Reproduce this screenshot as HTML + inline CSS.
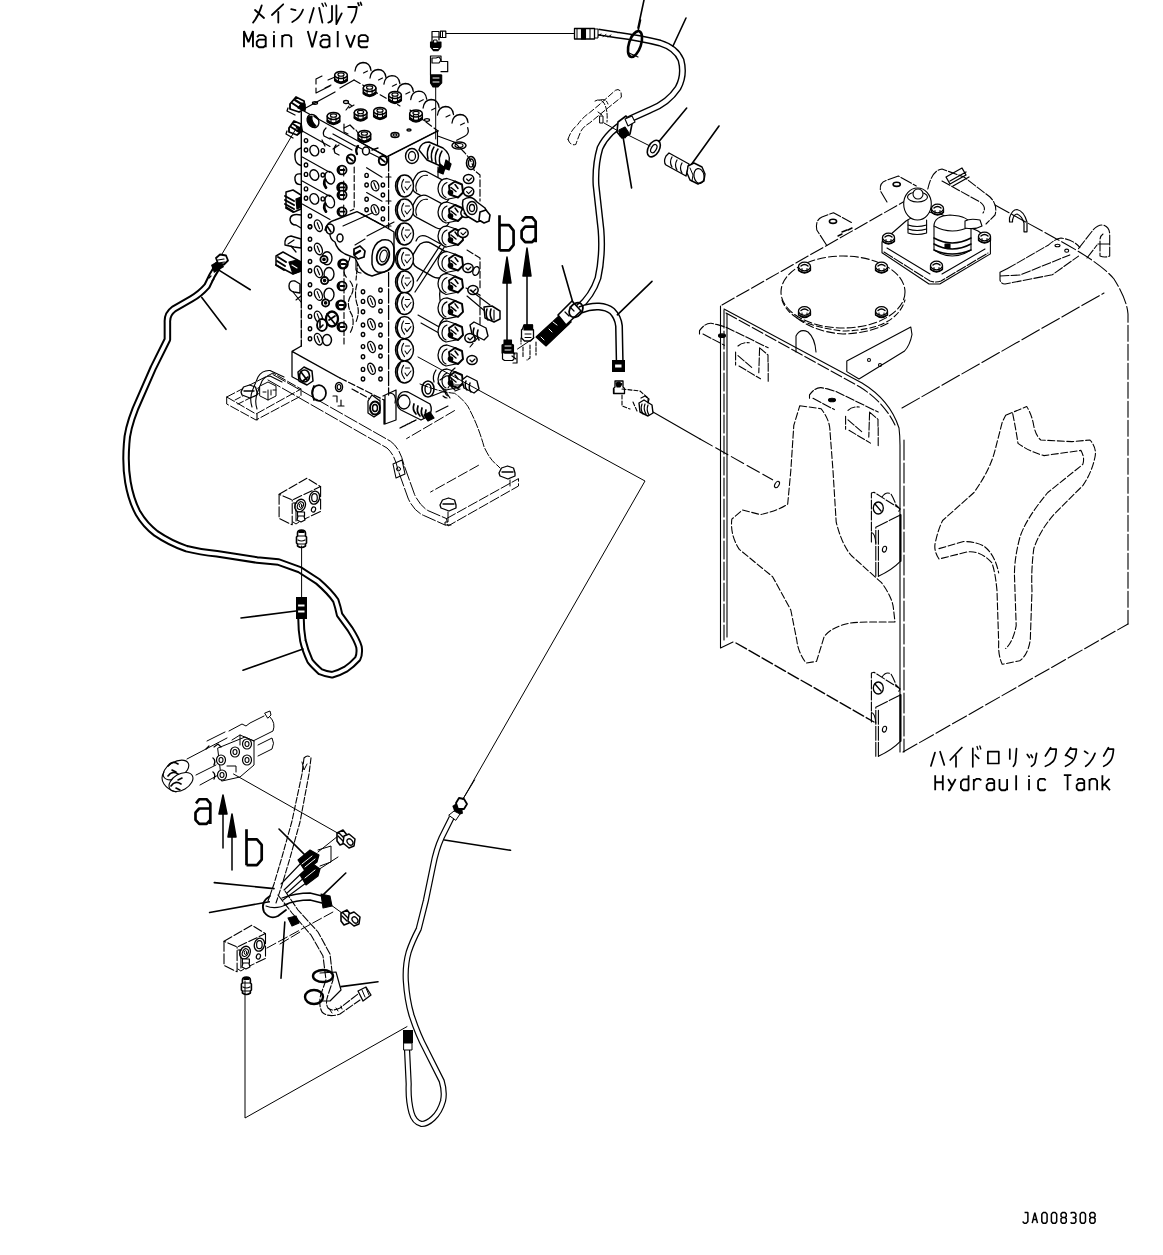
<!DOCTYPE html>
<html><head><meta charset="utf-8"><style>
html,body{margin:0;padding:0;background:#fff;width:1163px;height:1255px;overflow:hidden}
svg{position:absolute;left:0;top:0;display:block}
text{font-family:"Liberation Mono",monospace;fill:#000}
</style></head><body>
<svg width="1163" height="1255" viewBox="0 0 1163 1255" fill="none" stroke="#000" stroke-width="1.2" stroke-linecap="round" stroke-linejoin="round">
<!-- TEXT -->
<g id="txt" stroke="none" fill="#000">
</g>
<g id="kata" stroke-width="1.8">
<path d="M261.7 5.4 Q259 15 253.1 22.6 M255 10 L264 18"/>
<path d="M283.2 4.3 L271.9 15 M278.3 11.8 V22.6"/>
<path d="M291.2 9.1 L295.5 10.2 M292.3 22 Q300 18 303 9.7"/>
<path d="M313.8 8 L309.5 22.6 M319.2 8 L322.4 22.6"/><path d="M322 3.4 L323.4 6.4 M325 3 L326.4 6" stroke-width="1.4"/>
<path d="M332 6 V20 Q331 22 328.3 22.6 M336.4 5.4 V24.2 L341.7 13.4"/>
<path d="M348.2 7 H356.8 Q356 17 351.4 22.6 M358 3 L359 5.5 M360.5 2.5 L361.5 5"/>
</g>

<g id="kata2" stroke-width="1.7">
<path d="M935 752.6 L930.9 766 M940.1 751.7 L944.3 765"/>
<path d="M961.9 747.5 L950.2 760 M956 756 V766.8"/>
<path d="M972.8 748.4 V766.8 M975.3 755 L978.7 758.4"/><path d="M977 746.5 L978 749.5 M979.8 746 L980.8 749" stroke-width="1.3"/>
<path d="M987.9 751.7 H998.8 V763.5 H987.9 Z"/>
<path d="M1009.8 749.2 V759 M1016.5 748.7 L1015.5 762 Q1015 764.5 1013.4 766.3"/>
<path d="M1027.3 754.4 L1029.4 757.5 M1031 754.9 L1032.5 757.5 M1036.6 753.4 L1035 762.6 Q1034 765 1031.5 766.3"/>
<path d="M1050.6 747.7 L1045.4 756 M1050.6 749.2 H1056.2 Q1056 757 1053.7 760.6 Q1050 765 1045.4 766.3"/>
<path d="M1070.7 747.7 L1065.5 755.4 M1071.2 749.2 H1076.4 Q1076 758 1072 762 Q1069 765 1065.5 766.3 M1066 755 L1072.2 758.5"/>
<path d="M1084.6 751.3 L1087.7 753.4 M1085.7 766.3 Q1092 762 1095 753.4"/>
<path d="M1108.4 747.7 L1103.7 756 M1108.4 749.2 H1113.5 Q1113 757 1110.7 760.6 Q1107.5 765 1103.7 766.3"/>
</g>
<!-- TANK -->
<g id="tank" stroke-width="1.1">
<!-- top back-left edge -->
<path d="M722 305 L905 201" stroke-dasharray="14 3"/>
<path d="M995 205 L1053 237 Q1100 262 1114 279 Q1127 300 1128 314 V624" stroke-dasharray="16 3"/>
<!-- front top edge double -->
<path d="M724 309 L862 383 Q890 400 899 428 Q900 436 900 445 V752"/>
<path d="M726 313 L860 387 Q884 402 895 425" stroke-dasharray="12 3"/>
<path d="M904 440 V752" stroke-dasharray="20 3"/>
<!-- front left edges -->
<path d="M720.5 306 V648 L733 642"/>
<path d="M724 310 V640" stroke-dasharray="18 3"/>
<path d="M727 314 V637"/>
<!-- front bottom -->
<path d="M736 643 L874 722" stroke-width="1.4" stroke-dasharray="12 3"/>
<!-- right face -->
<path d="M902 408 L1104 293" stroke-dasharray="20 3"/>
<path d="M903 752 L1128 624" stroke-dasharray="16 3"/>
<!-- manhole -->
<ellipse cx="843" cy="292" rx="62" ry="36" stroke-dasharray="8 3"/>
<path d="M782 300 Q790 325 843 331 Q896 330 905 300" stroke-dasharray="6 3"/><path d="M797 318 Q815 332 843 334 Q872 333 890 322" stroke-dasharray="8 3"/>
<!-- front cutout -->
<path d="M799.8 405.7 L821 408.7 Q830 420 830 431.4 L833 470.8 L836.2 522.2 Q842 545 851.3 555.5 L881.5 582.7 Q893 598 893.6 610 L895 622 L869.4 622 Q850 622 842.2 625 Q828 630 824 637.2 L816.5 661.4 L806 663 Q798 652 796.8 640.2 L790.8 610 Q780 590 772.6 576.7 L739.3 549.4 Q730 535 731.8 519.2 L742.4 510 L760.5 514.6 Q780 510 787.7 504 L790.8 470.8 L793.8 425.4 Z" stroke-dasharray="7 2.5"/>
<!-- right cutout outer -->
<path d="M1005.7 415.3 L1026.7 406.5 Q1032 415 1033.8 426 Q1036 436 1040.8 440 L1072 441.6 L1090 440 Q1097 448 1095 457 Q1092 472 1083 485.4 L1054.8 513.5 Q1040 530 1033.8 548.6 Q1031 570 1032 590.6 L1030.3 639.7 Q1028 655 1019.7 660.8 L1002.2 664.3 Q998 655 998.7 643 L997 590.6 Q995 570 991.7 562.6 Q980 550 967 552 L939 559 Q933 550 935.6 541.5 Q938 530 942.6 520.5 L974 492.5 Q990 470 995 450.4 L1002.2 422.3 Z" stroke-dasharray="7 2.5"/>
<!-- right cutout inner -->
<path d="M1012.7 413.6 Q1016 430 1018 443.4 Q1030 452 1044 455.6 L1081 450.4 Q1085 458 1082.8 464.4 L1047.8 492.5 Q1025 520 1019.7 538 Q1014 560 1014.5 576.6 L1016.2 625.7 Q1013 642 1005.7 648.5 M939 548.6 L963.6 541.5 Q978 542 984.7 546.8 Q995 555 998.7 573" stroke-dasharray="7 2.5"/>
<!-- thin line to tank hole -->
<path d="M653 412 L700 439" />
<path d="M700 439 L772.6 479.8" stroke-dasharray="14 4"/>
<ellipse cx="777" cy="484.5" rx="2" ry="3.5" transform="rotate(30 777 484.5)"/>
<!-- lugs -->
<path d="M699.5 334 V330.6 Q705 323 711 323.3 L717.5 324.6 L726 327.2 L768.2 347.8 M703 334 L724.4 345.3" stroke-dasharray="9 2"/>
<ellipse cx="722" cy="335.7" rx="3.5" ry="1.8" fill="#000"/>
<path d="M735.6 352 V365 M738 355.6 L752 367.6 M739 366 L760.5 378.8 M768.2 363.3 V382.2 M759.6 347.8 L758.8 372.8 M738 346 Q742 342 749.3 342.7 M759.6 347.8 L768 355 V363" stroke-dasharray="8 2"/>
<path d="M826.8 245.5 L816.8 230 Q815 220 822 217 L833.5 212.7 L851.4 222.5" stroke-dasharray="12 2"/>
<ellipse cx="833" cy="221.3" rx="3.6" ry="2.1" stroke-width="1.6"/>
<path d="M838 236 l4 -2 M842 232 l5 -2 M848 230 l4 -2" stroke-width="1.4"/>
<path d="M887 202 L880.5 191 Q879 183 886 180.5 L898.4 176 L916.3 186" stroke-dasharray="12 2"/>
<ellipse cx="896.7" cy="184.3" rx="3.6" ry="2.1" stroke-width="1.6"/>
<path d="M846.8 361 L910.8 327 L912 334.5 Q910 345 904.6 351 L859 379 L846.8 371.6 Z" />
<circle cx="869" cy="360" r="1.5"/><circle cx="880" cy="365" r="1.5"/>
<path d="M1007.5 268.6 L1048.6 244.9 Q1055 239 1061 238 Q1074 240 1079.8 247.4 M1000 272.3 V280 Q1001 284 1005 284 L1052.3 274.8 L1078.5 256.1 M1000 276 L1020 275 L1069.8 254.9 M1000 272.3 L1007.5 268.6" stroke-dasharray="9 2"/>
<ellipse cx="1057.5" cy="245.5" rx="2.5" ry="1.3"/><ellipse cx="1066.7" cy="250.7" rx="2" ry="1.6"/>
<path d="M796 352 V336 Q800 328 808 332 Q815 338 816 352" />
<path d="M1009.5 220 V218 Q1012 209.5 1017 209.5 Q1024 211 1027 222 V231.8 H1024 V223 Q1022 216 1017 214 Q1014 214 1012.5 220 V222 H1009.5 Z" stroke-width="1.2"/>
<path d="M1078.5 248.6 L1093 230 Q1098 224.5 1103 225 Q1109.5 227 1109.7 234 V256 Q1105 258 1100 256.1 V240 Q1100 236 1103 234 M1087 258 L1097 245" stroke-dasharray="10 2"/><path d="M1098 244 h11.5" stroke-width="1"/>
<!-- lower bracket under top -->
<g transform="translate(110 64.3)"><path d="M699.5 334 V330.6 Q705 323 711 323.3 L717.5 324.6 L726 327.2 L768.2 347.8 M703 334 L724.4 345.3" stroke-dasharray="9 2"/>
<ellipse cx="722" cy="335.7" rx="3.5" ry="1.8" fill="#000"/>
<path d="M735.6 352 V365 M738 355.6 L752 367.6 M739 366 L760.5 378.8 M768.2 363.3 V382.2 M759.6 347.8 L758.8 372.8 M738 346 Q742 342 749.3 342.7 M759.6 347.8 L768 355 V363" stroke-dasharray="8 2"/></g>
<!-- front edge brackets -->
<g id="brk1">
<path d="M871.4 542 V493 L874 492.3 L900.3 509 M882 497 Q886 491 891 494 Q894 499 896 505 L900 509 L898 513" stroke-dasharray="9 2"/>
<ellipse cx="878.3" cy="508" rx="5" ry="6" stroke-width="1.3"/><path d="M875 504 l6 7" stroke-width="1.3"/>
<path d="M875.8 576.3 V527.3 L900.3 515 M878.4 576.3 V530" stroke-dasharray="14 2"/>
<path d="M878.4 576.3 Q892 570 900.3 561.4" />
<path d="M871.4 532.5 Q875 533 875.8 543" />
<ellipse cx="884.5" cy="549.2" rx="2" ry="3" transform="rotate(15 884.5 549.2)"/>
<path d="M900.5 515 V561" stroke-width="2"/>
</g>
<use href="#brk1" transform="translate(0 180)"/>
</g>

<!-- FILTER ASSEMBLY -->
<g id="filter" stroke-width="1.1">
<path d="M882 242 L906 221 Q920 212 936 212 L978 231 L990.4 239.5 V253.9 L939.8 284 H929 L882 252.7 Z" fill="#fff"/>
<path d="M884 252 L930 281 Q936 283 941 281 L988 253" stroke-dasharray="10 2"/>
<path d="M887 248 L930 274 M942 274 L985 249"/>
<!-- breather -->
<path d="M908 220 V233 Q917 236 926.6 233 V220" fill="#fff"/>
<path d="M908 225 Q917 228 926.6 225 M908 229 Q917 232 926.6 229"/>
<ellipse cx="917.5" cy="204" rx="13.8" ry="16" fill="#fff"/>
<ellipse cx="917.5" cy="197" rx="10" ry="5"/>
<ellipse cx="918" cy="194" rx="5" ry="5" fill="#fff"/>
<!-- filler cap -->
<path d="M934 226 V250 Q952 262 971 250 V226" fill="#fff"/>
<path d="M934 238 Q952 248 971 238 M934 244 Q952 254 971 244 M934 250 Q952 258 971 250" stroke-width="1.6"/>
<path d="M934 226 Q934 216 950 215 Q970 216 971 226 Q952 236 934 226 Z" fill="#fff"/>
<rect x="945" y="244" width="5" height="4" fill="#000"/>
<!-- pipe -->
<path d="M927.8 189 Q932 170 942 169 L964 177 L990 197 Q998 205 995 215 L986 224" stroke-dasharray="9 2"/>
<path d="M942 181 L980 202 Q987 207 983 213" stroke-dasharray="9 2"/>
<path d="M946 177 L962 168 L966 175 L950 184 Z M950 181 L966 172 M953 186 L969 177" stroke-width="1.3"/>
<path d="M965 221 Q970 218 980 220 L982 226 Q975 230 965 228 Z" fill="#fff"/>
<!-- bolts -->
<defs><g id="helm"><path d="M-6 -1 V2.5 Q0 7.5 6 2.5 V-1" fill="#fff" stroke-width="1.3"/><ellipse cx="0" cy="-1.5" rx="6" ry="4.3" fill="#fff" stroke-width="1.3"/><path d="M-3.5 -2 Q0 -5 3.5 -2 M-5.5 2.5 Q0 6.5 5.5 2.5" stroke-width="1.4"/><path d="M-2.5 0.5 V3.5 M2.5 0.5 V3.5" stroke-width="1"/></g></defs>
<use href="#helm" transform="translate(888.5 239.0)"/>
<use href="#helm" transform="translate(937.5 210.0)"/>
<use href="#helm" transform="translate(984.5 238.0)"/>
<use href="#helm" transform="translate(936.5 267.0)"/>
<use href="#helm" transform="translate(804.5 268.0)"/>
<use href="#helm" transform="translate(881.5 268.0)"/>
<use href="#helm" transform="translate(804.5 312.5)"/>
<use href="#helm" transform="translate(881.5 312.5)"/>
</g>
</g>

<g id="valve" stroke-width="1.26">
<path d="M355.0 71.0 q1 -8 8 -8.5 q7 0 8 8" stroke-width="1.26" fill="none"/>
<path d="M363.5 73.0 l4 -2" stroke-width="1.15"/>
<path d="M370.0 78.0 q1 -8 8 -8.5 q7 0 8 8" stroke-width="1.26" fill="none"/>
<path d="M378.5 80.0 l4 -2" stroke-width="1.15"/>
<path d="M383.9 84.2 q1 -8 8 -8.5 q7 0 8 8" stroke-width="1.26" fill="none"/>
<path d="M392.4 86.2 l4 -2" stroke-width="1.15"/>
<path d="M397.3 92.0 q1 -8 8 -8.5 q7 0 8 8" stroke-width="1.26" fill="none"/>
<path d="M405.8 94.0 l4 -2" stroke-width="1.15"/>
<path d="M410.7 99.7 q1 -8 8 -8.5 q7 0 8 8" stroke-width="1.26" fill="none"/>
<path d="M419.2 101.7 l4 -2" stroke-width="1.15"/>
<path d="M423.1 108.0 q1 -8 8 -8.5 q7 0 8 8" stroke-width="1.26" fill="none"/>
<path d="M431.6 110.0 l4 -2" stroke-width="1.15"/>
<path d="M437.5 115.0 q1 -8 8 -8.5 q7 0 8 8" stroke-width="1.26" fill="none"/>
<path d="M446.0 117.0 l4 -2" stroke-width="1.15"/>
<path d="M452.0 123.0 q1 -8 8 -8.5 q7 0 8 8" stroke-width="1.26" fill="none"/>
<path d="M460.5 125.0 l4 -2" stroke-width="1.15"/>
<path d="M467.7 127.7 q2 6 -3 8.5 l-8 4" stroke-width="1.26"/>
<path d="M316 79 L322 76 M316 79 V84 M316 88 V93 L330 86 M328 80 L342 74 M325 88 l6 -3" stroke-width="1.15"/>
<path d="M302 110 L335 92 M340 88 L354 80 M438 131 L387 157 L302 110" stroke-width="1.26"/>
<path d="M354 80 L400 106 M410 110 L438 131" stroke-width="1.15" stroke-dasharray="7 3"/>
<path d="M334.7 75.0 v5.7 q6.3 5.5 12.6 0 v-5.7" fill="#fff" stroke-width="1.49"/>
<ellipse cx="341.0" cy="75.0" rx="6.3" ry="3.5" fill="#fff" stroke-width="1.49"/>
<ellipse cx="341.0" cy="74.5" rx="3.1" ry="1.7" stroke-width="1.15"/>
<path d="M335.3 79.8 q5.7 5.2 11.3 0" stroke-width="2.30"/>
<path d="M338.5 76.7 v4.4 M343.5 76.7 v4.4" stroke-width="1.15"/>
<path d="M363.3 88.0 v5.7 q6.3 5.5 12.6 0 v-5.7" fill="#fff" stroke-width="1.49"/>
<ellipse cx="369.6" cy="88.0" rx="6.3" ry="3.5" fill="#fff" stroke-width="1.49"/>
<ellipse cx="369.6" cy="87.5" rx="3.1" ry="1.7" stroke-width="1.15"/>
<path d="M363.9 92.8 q5.7 5.2 11.3 0" stroke-width="2.30"/>
<path d="M367.1 89.7 v4.4 M372.1 89.7 v4.4" stroke-width="1.15"/>
<path d="M327.2 116.0 v5.7 q6.3 5.5 12.6 0 v-5.7" fill="#fff" stroke-width="1.49"/>
<ellipse cx="333.5" cy="116.0" rx="6.3" ry="3.5" fill="#fff" stroke-width="1.49"/>
<ellipse cx="333.5" cy="115.5" rx="3.1" ry="1.7" stroke-width="1.15"/>
<path d="M327.8 120.8 q5.7 5.2 11.3 0" stroke-width="2.30"/>
<path d="M331.0 117.7 v4.4 M336.0 117.7 v4.4" stroke-width="1.15"/>
<path d="M354.3 112.5 v5.7 q6.3 5.5 12.6 0 v-5.7" fill="#fff" stroke-width="1.49"/>
<ellipse cx="360.6" cy="112.5" rx="6.3" ry="3.5" fill="#fff" stroke-width="1.49"/>
<ellipse cx="360.6" cy="112.0" rx="3.1" ry="1.7" stroke-width="1.15"/>
<path d="M354.9 117.3 q5.7 5.2 11.3 0" stroke-width="2.30"/>
<path d="M358.1 114.2 v4.4 M363.1 114.2 v4.4" stroke-width="1.15"/>
<path d="M373.7 111.0 v5.7 q6.3 5.5 12.6 0 v-5.7" fill="#fff" stroke-width="1.49"/>
<ellipse cx="380.0" cy="111.0" rx="6.3" ry="3.5" fill="#fff" stroke-width="1.49"/>
<ellipse cx="380.0" cy="110.5" rx="3.1" ry="1.7" stroke-width="1.15"/>
<path d="M374.3 115.8 q5.7 5.2 11.3 0" stroke-width="2.30"/>
<path d="M377.5 112.7 v4.4 M382.5 112.7 v4.4" stroke-width="1.15"/>
<path d="M358.1 134.0 v5.7 q6.3 5.5 12.6 0 v-5.7" fill="#fff" stroke-width="1.49"/>
<ellipse cx="364.4" cy="134.0" rx="6.3" ry="3.5" fill="#fff" stroke-width="1.49"/>
<ellipse cx="364.4" cy="133.5" rx="3.1" ry="1.7" stroke-width="1.15"/>
<path d="M358.7 138.8 q5.7 5.2 11.3 0" stroke-width="2.30"/>
<path d="M361.9 135.7 v4.4 M366.9 135.7 v4.4" stroke-width="1.15"/>
<path d="M409.7 113.5 v5.7 q6.3 5.5 12.6 0 v-5.7" fill="#fff" stroke-width="1.49"/>
<ellipse cx="416.0" cy="113.5" rx="6.3" ry="3.5" fill="#fff" stroke-width="1.49"/>
<ellipse cx="416.0" cy="113.0" rx="3.1" ry="1.7" stroke-width="1.15"/>
<path d="M410.3 118.3 q5.7 5.2 11.3 0" stroke-width="2.30"/>
<path d="M413.5 115.2 v4.4 M418.5 115.2 v4.4" stroke-width="1.15"/>
<path d="M388.7 95.0 v5.7 q6.3 5.5 12.6 0 v-5.7" fill="#fff" stroke-width="1.49"/>
<ellipse cx="395.0" cy="95.0" rx="6.3" ry="3.5" fill="#fff" stroke-width="1.49"/>
<ellipse cx="395.0" cy="94.5" rx="3.1" ry="1.7" stroke-width="1.15"/>
<path d="M389.3 99.8 q5.7 5.2 11.3 0" stroke-width="2.30"/>
<path d="M392.5 96.7 v4.4 M397.5 96.7 v4.4" stroke-width="1.15"/>
<ellipse cx="315" cy="103" rx="2.5" ry="1.3" stroke-width="1.38"/><ellipse cx="346" cy="102" rx="2.5" ry="1.5"/><ellipse cx="395" cy="135" rx="4" ry="2.5" stroke-width="1.49"/><ellipse cx="395" cy="135" rx="2" ry="1.2"/><ellipse cx="409" cy="130" rx="2" ry="1" stroke-width="1.49"/><ellipse cx="427" cy="120" rx="2.5" ry="1.3"/>
<ellipse cx="313" cy="121" rx="5.5" ry="7" fill="#fff" stroke-width="1.38" transform="rotate(-30 313 121)"/><path d="M308 117 q-1 7 5 10 l3 -1 q-5 -4 -4 -10z" fill="#000"/><path d="M314 116 l4 3" stroke-width="1.61"/>
<path d="M348 103 l4 3 M349 108 l5 -3 M346 110 l3 -4" stroke-width="1.15"/>
<path d="M330 138 l22 12 M333 134 l22 12 M356 146 l28 14 M360 142 l26 14" stroke-width="1.26"/>
<path d="M326 128 q-4 4 -2 8 l6 3 M344 128 l6 -3 l4 4 M339 145 l-6 4 M322 140 l3 6" stroke-width="1.26"/>
<ellipse cx="351" cy="159" rx="4.2" ry="4.6" fill="#fff" stroke-width="1.95"/><path d="M348 157 l5 4" stroke-width="1.61"/>
<ellipse cx="383" cy="160.5" rx="4.2" ry="4.6" fill="#fff" stroke-width="1.95"/><path d="M380 158 l5 4" stroke-width="1.61"/>
<ellipse cx="366" cy="151" rx="3.5" ry="4" fill="#fff" stroke-width="1.49"/><path d="M358 146 q-3 4 -1 8" stroke-width="2.30"/>
<path d="M336 145 q-3 4 -1 8 l4 2 M372 150 l6 -2" stroke-width="1.38"/>
<path d="M344 124 v8 l4 2 M356 130 l4 6" stroke-width="1.15"/>
<path d="M429 148 l4 -3 l4 3 l-1 4 l-4 1 z" fill="#000"/>
<path d="M290 104 l6 -7 l8 4 l1 8 l-6 3 l-9 -3 z" fill="#fff" stroke-width="1.84"/><path d="M292 103 l9 6 M295 100 l8 5" stroke-width="2.07"/><path d="M298 108 l4 -5 l3 1 v7z" fill="#000"/><path d="M288 108 l-1 3 l8 4" stroke-width="1.26"/>
<path d="M289 128 l5 -7 l7 3 l1 7 l-5 4 l-8 -3 z" fill="#fff" stroke-width="1.84"/><path d="M291 127 l8 5 M293 124 l8 5" stroke-width="1.84"/><path d="M297 131 l4 -5 l1 6z" fill="#000"/><path d="M287 131 l-1 3 l7 4" stroke-width="1.26"/>
<path d="M297 127 L302 131" stroke-width="2.30"/>
<path d="M301.3 112 V300" stroke-width="1.38"/><path d="M301.3 300 V346" stroke-width="1.38" stroke-dasharray="8 2"/>
<path d="M302.3 131.0 L330 146.5" stroke-width="1.15"/>
<path d="M302.3 157.0 L330 172.5" stroke-width="1.15"/>
<path d="M302.3 181.0 L330 196.5" stroke-width="1.15"/>
<path d="M302.3 204.0 L330 219.5" stroke-width="1.15"/>
<ellipse cx="306.0" cy="140.6" rx="1.7" ry="2.0" stroke-width="1.38"/>
<ellipse cx="306.0" cy="150.0" rx="1.7" ry="2.0" stroke-width="1.38"/>
<ellipse cx="314.3" cy="150.6" rx="4.3" ry="5.4" stroke-width="1.38" transform="rotate(-22 314.3 150.6)"/>
<ellipse cx="322.8" cy="150.6" rx="1.7" ry="2.0" stroke-width="1.38"/>
<ellipse cx="306.0" cy="165.0" rx="1.7" ry="2.0" stroke-width="1.38"/>
<ellipse cx="306.0" cy="174.4" rx="1.7" ry="2.0" stroke-width="1.38"/>
<ellipse cx="314.3" cy="175.0" rx="4.3" ry="5.4" stroke-width="1.38" transform="rotate(-22 314.3 175.0)"/>
<ellipse cx="322.8" cy="175.0" rx="1.7" ry="2.0" stroke-width="1.38"/>
<ellipse cx="306.0" cy="188.9" rx="1.7" ry="2.0" stroke-width="1.38"/>
<ellipse cx="306.0" cy="198.3" rx="1.7" ry="2.0" stroke-width="1.38"/>
<ellipse cx="314.3" cy="198.9" rx="4.3" ry="5.4" stroke-width="1.38" transform="rotate(-22 314.3 198.9)"/>
<ellipse cx="322.8" cy="198.9" rx="1.7" ry="2.0" stroke-width="1.38"/>
<ellipse cx="310.0" cy="216.0" rx="1.7" ry="2.0" stroke-width="1.38"/>
<ellipse cx="310.0" cy="226.6" rx="1.7" ry="2.0" stroke-width="1.38"/>
<ellipse cx="310.0" cy="226.7" rx="1.7" ry="2.0" stroke-width="1.38"/>
<ellipse cx="310.0" cy="239.2" rx="1.7" ry="2.0" stroke-width="1.38"/>
<ellipse cx="310.0" cy="249.0" rx="1.7" ry="2.0" stroke-width="1.38"/>
<ellipse cx="310.0" cy="261.5" rx="1.7" ry="2.0" stroke-width="1.38"/>
<ellipse cx="310.0" cy="270.8" rx="1.7" ry="2.0" stroke-width="1.38"/>
<ellipse cx="310.0" cy="284.8" rx="1.7" ry="2.0" stroke-width="1.38"/>
<ellipse cx="310.0" cy="294.0" rx="1.7" ry="2.0" stroke-width="1.38"/>
<ellipse cx="310.0" cy="307.0" rx="1.7" ry="2.0" stroke-width="1.38"/>
<ellipse cx="310.0" cy="316.4" rx="1.7" ry="2.0" stroke-width="1.38"/>
<ellipse cx="310.0" cy="328.8" rx="1.7" ry="2.0" stroke-width="1.38"/>
<ellipse cx="310.0" cy="338.7" rx="1.7" ry="2.0" stroke-width="1.38"/>
<ellipse cx="318.4" cy="225.7" rx="3.6" ry="6.0" stroke-width="1.38" transform="rotate(-22 318.4 225.7)"/>
<path d="M317.2 222.7 l2.4 6.0" stroke-width="1.15"/>
<ellipse cx="318.4" cy="249.0" rx="3.6" ry="6.0" stroke-width="1.38" transform="rotate(-22 318.4 249.0)"/>
<path d="M317.2 246.0 l2.4 6.0" stroke-width="1.15"/>
<ellipse cx="318.4" cy="271.8" rx="3.6" ry="6.0" stroke-width="1.38" transform="rotate(-22 318.4 271.8)"/>
<path d="M317.2 268.8 l2.4 6.0" stroke-width="1.15"/>
<ellipse cx="318.4" cy="294.6" rx="3.6" ry="6.0" stroke-width="1.38" transform="rotate(-22 318.4 294.6)"/>
<path d="M317.2 291.6 l2.4 6.0" stroke-width="1.15"/>
<ellipse cx="318.4" cy="316.9" rx="3.6" ry="6.0" stroke-width="1.38" transform="rotate(-22 318.4 316.9)"/>
<path d="M317.2 313.9 l2.4 6.0" stroke-width="1.15"/>
<ellipse cx="318.4" cy="339.2" rx="3.6" ry="6.0" stroke-width="1.38" transform="rotate(-22 318.4 339.2)"/>
<path d="M317.2 336.2 l2.4 6.0" stroke-width="1.15"/>
<ellipse cx="327.0" cy="258.3" rx="5" ry="6.5" fill="#fff" stroke-width="1.38"/>
<ellipse cx="329.0" cy="274.0" rx="5" ry="6.5" fill="#fff" stroke-width="1.38"/>
<ellipse cx="329.0" cy="294.6" rx="5" ry="6.5" fill="#fff" stroke-width="1.38"/>
<ellipse cx="324.0" cy="259.4" rx="3.6" ry="3.6" fill="#fff" stroke-width="1.84"/><circle cx="324.0" cy="259.4" r="1.2" fill="#000"/>
<ellipse cx="324.6" cy="280.6" rx="3.6" ry="3.6" fill="#fff" stroke-width="1.84"/><circle cx="324.6" cy="280.6" r="1.2" fill="#000"/>
<ellipse cx="325.6" cy="302.9" rx="3.6" ry="3.6" fill="#fff" stroke-width="1.84"/><circle cx="325.6" cy="302.9" r="1.2" fill="#000"/>
<ellipse cx="332" cy="319" rx="6" ry="7.5" fill="#fff" stroke-width="2.30"/><path d="M327 314 l8 10 M329 320 l6 -4" stroke-width="1.72"/>
<ellipse cx="322" cy="325" rx="5" ry="6" fill="#fff" stroke-width="1.84"/><path d="M320 321 v7 l3 -3" stroke-width="1.61"/>
<ellipse cx="327" cy="340" rx="4.5" ry="5.5" fill="#fff" stroke-width="1.49"/>
<ellipse cx="329.8" cy="177.7" rx="4.5" ry="6.5" stroke-width="1.38" transform="rotate(-20 329.8 177.7)"/>
<path d="M325 179.7 q-2 4 1 8" stroke-width="2.76"/>
<ellipse cx="329.8" cy="201.6" rx="4.5" ry="6.5" stroke-width="1.38" transform="rotate(-20 329.8 201.6)"/>
<path d="M325 203.6 q-2 4 1 8" stroke-width="2.76"/>
<ellipse cx="342.0" cy="170.0" rx="4.6" ry="4.4" fill="#fff" stroke-width="1.72"/>
<path d="M339.5 167.0 q-2 3 0 6 M340.5 170.0 h4" stroke-width="1.84"/>
<ellipse cx="342.0" cy="187.4" rx="4.6" ry="4.4" fill="#fff" stroke-width="2.30"/>
<path d="M339.5 184.4 q-2 3 0 6 M340.5 187.4 h4" stroke-width="1.84"/>
<ellipse cx="342.0" cy="195.0" rx="4.6" ry="4.4" fill="#fff" stroke-width="1.72"/>
<path d="M339.5 192.0 q-2 3 0 6 M340.5 195.0 h4" stroke-width="1.84"/>
<ellipse cx="342.0" cy="211.7" rx="4.6" ry="4.4" fill="#fff" stroke-width="1.72"/>
<path d="M339.5 208.7 q-2 3 0 6 M340.5 211.7 h4" stroke-width="1.84"/>
<ellipse cx="343.0" cy="264.0" rx="4.6" ry="4.4" fill="#fff" stroke-width="2.30"/>
<path d="M340.5 261.0 q-2 3 0 6 M341.5 264.0 h4" stroke-width="1.84"/>
<ellipse cx="342.0" cy="286.0" rx="4.6" ry="4.4" fill="#fff" stroke-width="1.72"/>
<path d="M339.5 283.0 q-2 3 0 6 M340.5 286.0 h4" stroke-width="1.84"/>
<ellipse cx="341.0" cy="305.0" rx="4.6" ry="4.4" fill="#fff" stroke-width="2.30"/>
<path d="M338.5 302.0 q-2 3 0 6 M339.5 305.0 h4" stroke-width="1.84"/>
<ellipse cx="342.0" cy="327.0" rx="4.6" ry="4.4" fill="#fff" stroke-width="1.72"/>
<path d="M339.5 324.0 q-2 3 0 6 M340.5 327.0 h4" stroke-width="1.84"/>
<path d="M343.7 168 V176 M343.7 181 V200 M343.7 205 V216" stroke-width="1.15"/>
<path d="M354.2 167 V209 l-4 2" stroke-width="1.15" stroke-dasharray="6 2.5"/>
<path d="M347 250 q6 6 0 14 q-6 8 0 14 M350 281 q6 8 0 16 q-4 8 2 18 q3 10 -2 18" stroke-width="1.15" stroke-dasharray="6 2"/>
<path d="M344 228 V248 M344 270 V345" stroke-width="1.15" stroke-dasharray="6 2.5"/>
<path d="M301 148 q-7 2 -6 9 q0 7 6 8.5" stroke-width="1.38"/>
<path d="M301 174 q-7 -1 -6 6 q1 5 6 4.6" stroke-width="1.38"/>
<path d="M301 215 q-11 -2 -11 5 q1 5 6 5 L301 228" stroke-width="1.38"/>
<path d="M286 192 l7 -2 l8 5 v14 l-7 3 l-8 -5z" fill="#fff" stroke-width="1.49"/><path d="M285 196 l9 5 M285 200 l9 5 M285 204 l9 5 M286 208 l7 4" stroke-width="1.95"/><path d="M296 199 l5 -2 v10 l-4 2z" fill="#000"/>
<path d="M285 245 q-1 -8 6 -9 l10 3 v9 l-7 -1 z" fill="#fff" stroke-width="1.38"/><path d="M288 244 l6 -4 M291 246 l5 6" stroke-width="1.26"/>
<path d="M276 256 l7 -4 l18 10 v9 l-8 3 l-17 -9z" fill="#fff" stroke-width="1.49"/><path d="M278 257 l8 5 M277 261 l8 5 M276 265 l8 5" stroke-width="1.95"/><path d="M289 262 l8 -2 l4 3 v8 l-8 3z" fill="#000"/><path d="M292 265 l5 3" stroke="#fff" stroke-width="1.15"/>
<path d="M289 286 q0 -6 6 -5 l5 3 v9 l-6 -1 q-5 -1 -5 -6z" fill="#fff" stroke-width="1.38"/><path d="M293 292 l8 10 M296 300 l5 -4" stroke-width="1.15"/>
<path d="M388.6 157 V395" stroke-width="1.26" stroke-dasharray="14 2.5"/>
<path d="M386 177 h5 M386 201 h5 M386 226 h5" stroke-width="1.15"/>
<ellipse cx="366.6" cy="175.4" rx="1.7" ry="2.0" stroke-width="1.38"/>
<ellipse cx="366.6" cy="185.0" rx="1.7" ry="2.0" stroke-width="1.38"/>
<ellipse cx="366.6" cy="199.3" rx="1.7" ry="2.0" stroke-width="1.38"/>
<ellipse cx="366.6" cy="209.8" rx="1.7" ry="2.0" stroke-width="1.38"/>
<ellipse cx="382.9" cy="185.0" rx="1.7" ry="2.0" stroke-width="1.38"/>
<ellipse cx="382.9" cy="195.0" rx="1.7" ry="2.0" stroke-width="1.38"/>
<ellipse cx="382.9" cy="208.8" rx="1.7" ry="2.0" stroke-width="1.38"/>
<ellipse cx="382.9" cy="218.9" rx="1.7" ry="2.0" stroke-width="1.38"/>
<ellipse cx="375.0" cy="185.8" rx="3.6" ry="5.3" stroke-width="1.38" transform="rotate(-22 375.0 185.8)"/>
<path d="M373.8 182.8 l2.4 6.0" stroke-width="1.15"/>
<ellipse cx="375.0" cy="209.8" rx="3.6" ry="5.3" stroke-width="1.38" transform="rotate(-22 375.0 209.8)"/>
<path d="M373.8 206.8 l2.4 6.0" stroke-width="1.15"/>
<path d="M366.6 167.7 L382 177.3 M366.6 192.6 L382 201.2" stroke-width="1.15"/>
<ellipse cx="363.0" cy="291.8" rx="1.7" ry="2.0" stroke-width="1.38"/>
<ellipse cx="363.0" cy="301.4" rx="1.7" ry="2.0" stroke-width="1.38"/>
<ellipse cx="363.0" cy="311.7" rx="1.7" ry="2.0" stroke-width="1.38"/>
<ellipse cx="363.0" cy="325.0" rx="1.7" ry="2.0" stroke-width="1.38"/>
<ellipse cx="363.0" cy="334.5" rx="1.7" ry="2.0" stroke-width="1.38"/>
<ellipse cx="363.0" cy="346.6" rx="1.7" ry="2.0" stroke-width="1.38"/>
<ellipse cx="363.0" cy="356.8" rx="1.7" ry="2.0" stroke-width="1.38"/>
<ellipse cx="363.0" cy="369.4" rx="1.7" ry="2.0" stroke-width="1.38"/>
<ellipse cx="363.0" cy="379.0" rx="1.7" ry="2.0" stroke-width="1.38"/>
<ellipse cx="380.5" cy="290.0" rx="1.7" ry="2.0" stroke-width="1.38"/>
<ellipse cx="380.5" cy="301.4" rx="1.7" ry="2.0" stroke-width="1.38"/>
<ellipse cx="380.5" cy="311.0" rx="1.7" ry="2.0" stroke-width="1.38"/>
<ellipse cx="380.5" cy="325.0" rx="1.7" ry="2.0" stroke-width="1.38"/>
<ellipse cx="380.5" cy="335.0" rx="1.7" ry="2.0" stroke-width="1.38"/>
<ellipse cx="380.5" cy="347.0" rx="1.7" ry="2.0" stroke-width="1.38"/>
<ellipse cx="380.5" cy="356.0" rx="1.7" ry="2.0" stroke-width="1.38"/>
<ellipse cx="380.5" cy="369.0" rx="1.7" ry="2.0" stroke-width="1.38"/>
<ellipse cx="380.5" cy="379.0" rx="1.7" ry="2.0" stroke-width="1.38"/>
<ellipse cx="371.5" cy="301.4" rx="3.4" ry="5.8" stroke-width="1.38" transform="rotate(-22 371.5 301.4)"/>
<path d="M370.3 298.4 l2.4 6.0" stroke-width="1.15"/>
<ellipse cx="371.5" cy="324.3" rx="3.4" ry="5.8" stroke-width="1.38" transform="rotate(-22 371.5 324.3)"/>
<path d="M370.3 321.3 l2.4 6.0" stroke-width="1.15"/>
<ellipse cx="371.5" cy="347.0" rx="3.4" ry="5.8" stroke-width="1.38" transform="rotate(-22 371.5 347.0)"/>
<path d="M370.3 344.0 l2.4 6.0" stroke-width="1.15"/>
<ellipse cx="371.5" cy="368.8" rx="3.4" ry="5.8" stroke-width="1.38" transform="rotate(-22 371.5 368.8)"/>
<path d="M370.3 365.8 l2.4 6.0" stroke-width="1.15"/>
<path d="M357 284 q-3 10 0 20 q3 8 -1 18 M358 260 l-2 20" stroke-width="1.15" stroke-dasharray="6 2"/>
<path d="M325 230 q2 -8 10 -10 L357 211.7 L361 213.6 L384 226 L394 232 V262 q-2 8 -10 10 l-12 4 q-8 -2 -12 -8 l-5 -10 l-10 -4 q-8 -4 -10 -12 q-6 -3 -5 -11z" fill="#fff" stroke-width="1.38"/>
<path d="M361 213.6 L384 226" stroke-width="1.38" stroke-dasharray="2 1"/>
<path d="M343 226 L372 213 M367 236 L394 222 M355 245 l10 -6" stroke-width="1.15"/>
<path d="M372 258 q0 -14 10 -18 q10 -2 12 8 v12 q-2 10 -10 12 q-10 2 -12 -8 z" stroke-width="1.49"/>
<ellipse cx="383" cy="256" rx="6" ry="9" stroke-width="1.84" transform="rotate(15 383 256)"/>
<ellipse cx="383.5" cy="256" rx="3.5" ry="6" stroke-width="1.26" transform="rotate(15 383.5 256)"/>
<ellipse cx="330" cy="229" rx="4" ry="5" fill="#fff" stroke-width="1.72"/><path d="M327 226 l4 6" stroke-width="1.61"/>
<ellipse cx="340" cy="238" rx="3" ry="4" stroke-width="1.49"/>
<path d="M354 249 l6 -3 l5 5 l-1 6 l-6 2 l-4 -4z" fill="#fff" stroke-width="1.72"/><path d="M355 254 l5 -3" stroke-width="2.53"/>
<path d="M356 260 v10 q2 3 5 3" stroke-width="1.15"/>
<path d="M388 156 L437.8 130.8" stroke-width="1.26"/>
<path d="M437.5 131 V147 M437.8 136 L454 142" stroke-width="1.15"/>
<ellipse cx="459" cy="145.5" rx="7" ry="3.6" stroke-width="1.49"/><ellipse cx="459" cy="145.5" rx="4" ry="2" stroke-width="1.15"/>
<path d="M454 142 l10 10 q8 8 10 18 l6 5 V201 M467 250 L480 258 V290 M466 288 l14 7 V335 l-10 12" stroke-width="1.15" stroke-dasharray="7 2.5"/>
<ellipse cx="471" cy="163" rx="4.5" ry="6.5" stroke-width="1.61"/><ellipse cx="471" cy="163" rx="2.5" ry="4"/>
<ellipse cx="476" cy="271" rx="3" ry="4.5" stroke-width="1.38" transform="rotate(20 476 271)"/>
<path d="M419 150 q2 -8 10 -8 l14 6 q8 6 6 14 l-4 6 l-18 -8 z" fill="#fff" stroke-width="1.38"/>
<ellipse cx="412" cy="156" rx="6.5" ry="7.5" fill="#fff" stroke-width="1.38"/><ellipse cx="412" cy="156" rx="3.5" ry="4.5"/>
<path d="M430 145 q-4 6 -2 14 M434 147 q-4 6 -2 14 M438 149 q-4 6 -2 14 M442 151 q-4 6 -2 14" stroke-width="1.49"/>
<path d="M446 160 l5 4 l-2 6 l-5 -2 z M440 164 l5 4 l-2 6 l-5 -2z" fill="#000"/>
<path d="M438 167 V178" stroke-width="1.15"/>
<rect x="412" y="176.0" width="40" height="24" rx="9" fill="#fff" stroke-width="1.38" transform="rotate(28 432 188.0)"/>
<path d="M422.0 179.0 q-6 2 -6 10 q0 6 4 9" stroke-width="1.15" transform="rotate(28 432 188.0)"/>
<rect x="412" y="200.0" width="40" height="24" rx="9" fill="#fff" stroke-width="1.38" transform="rotate(28 432 212.0)"/>
<path d="M422.0 203.0 q-6 2 -6 10 q0 6 4 9" stroke-width="1.15" transform="rotate(28 432 212.0)"/>
<rect x="413" y="246" width="38" height="28" rx="10" fill="#fff" stroke-width="1.38" transform="rotate(30 432 260)"/>
<path d="M416 241 q3 -8 12 -4 l18 10 M417 281 l26 -40 M445 246 l-30 46" stroke-width="1.26"/>
<path d="M418 315 l30 17 M421 323 l25 14" stroke-width="1.15"/>
<path d="M446 278 q-8 10 -6 22 q2 8 6 10 M444 318 q-8 8 -4 18" stroke-width="1.26"/>
<ellipse cx="404.5" cy="186.0" rx="9.0" ry="11.0" fill="#fff" stroke-width="1.38"/>
<path d="M400.0 177.2 q-5.9 8.8 0 17.6" stroke-width="1.72"/>
<path d="M403.6 179.4 q-4.5 6.6 0.9 13.2" stroke-width="1.15"/>
<path d="M405.0 187.0 l2 3 l4 -5 M405.5 182.0 h4" stroke-width="1.03"/>
<ellipse cx="404.5" cy="210.0" rx="9.0" ry="11.0" fill="#fff" stroke-width="1.38"/>
<path d="M400.0 201.2 q-5.9 8.8 0 17.6" stroke-width="1.72"/>
<path d="M403.6 203.4 q-4.5 6.6 0.9 13.2" stroke-width="1.15"/>
<path d="M405.0 211.0 l2 3 l4 -5 M405.5 206.0 h4" stroke-width="1.03"/>
<ellipse cx="404.5" cy="234.0" rx="9.0" ry="11.0" fill="#fff" stroke-width="1.38"/>
<path d="M400.0 225.2 q-5.9 8.8 0 17.6" stroke-width="1.72"/>
<path d="M403.6 227.4 q-4.5 6.6 0.9 13.2" stroke-width="1.15"/>
<path d="M405.0 235.0 l2 3 l4 -5 M405.5 230.0 h4" stroke-width="1.03"/>
<ellipse cx="404.5" cy="259.0" rx="9.0" ry="11.0" fill="#fff" stroke-width="1.38"/>
<path d="M400.0 250.2 q-5.9 8.8 0 17.6" stroke-width="1.72"/>
<path d="M403.6 252.4 q-4.5 6.6 0.9 13.2" stroke-width="1.15"/>
<path d="M405.0 260.0 l2 3 l4 -5 M405.5 255.0 h4" stroke-width="1.03"/>
<ellipse cx="404.5" cy="282.0" rx="9.0" ry="11.0" fill="#fff" stroke-width="1.38"/>
<path d="M400.0 273.2 q-5.9 8.8 0 17.6" stroke-width="1.72"/>
<path d="M403.6 275.4 q-4.5 6.6 0.9 13.2" stroke-width="1.15"/>
<path d="M405.0 283.0 l2 3 l4 -5 M405.5 278.0 h4" stroke-width="1.03"/>
<ellipse cx="404.5" cy="303.5" rx="9.0" ry="11.0" fill="#fff" stroke-width="1.38"/>
<path d="M400.0 294.7 q-5.9 8.8 0 17.6" stroke-width="1.72"/>
<path d="M403.6 296.9 q-4.5 6.6 0.9 13.2" stroke-width="1.15"/>
<path d="M405.0 304.5 l2 3 l4 -5 M405.5 299.5 h4" stroke-width="1.03"/>
<ellipse cx="404.5" cy="327.6" rx="9.0" ry="11.0" fill="#fff" stroke-width="1.38"/>
<path d="M400.0 318.8 q-5.9 8.8 0 17.6" stroke-width="1.72"/>
<path d="M403.6 321.0 q-4.5 6.6 0.9 13.2" stroke-width="1.15"/>
<path d="M405.0 328.6 l2 3 l4 -5 M405.5 323.6 h4" stroke-width="1.03"/>
<ellipse cx="404.5" cy="350.0" rx="9.0" ry="11.0" fill="#fff" stroke-width="1.38"/>
<path d="M400.0 341.2 q-5.9 8.8 0 17.6" stroke-width="1.72"/>
<path d="M403.6 343.4 q-4.5 6.6 0.9 13.2" stroke-width="1.15"/>
<path d="M405.0 351.0 l2 3 l4 -5 M405.5 346.0 h4" stroke-width="1.03"/>
<ellipse cx="404.5" cy="372.0" rx="9.0" ry="11.0" fill="#fff" stroke-width="1.38"/>
<path d="M400.0 363.2 q-5.9 8.8 0 17.6" stroke-width="1.72"/>
<path d="M403.6 365.4 q-4.5 6.6 0.9 13.2" stroke-width="1.15"/>
<path d="M405.0 373.0 l2 3 l4 -5 M405.5 368.0 h4" stroke-width="1.03"/>
<path d="M447.0 178.5 q-8 0 -9 10 q0 8 8 11 l10 -2 v-16z" fill="#fff" stroke-width="1.26"/>
<path d="M447.0 182.5 q-5 2 -5 8 q0 5 4 7" stroke-width="1.15"/>
<path d="M447.0 202.0 q-8 0 -9 10 q0 8 8 11 l10 -2 v-16z" fill="#fff" stroke-width="1.26"/>
<path d="M447.0 206.0 q-5 2 -5 8 q0 5 4 7" stroke-width="1.15"/>
<path d="M447.0 226.0 q-8 0 -9 10 q0 8 8 11 l10 -2 v-16z" fill="#fff" stroke-width="1.26"/>
<path d="M447.0 230.0 q-5 2 -5 8 q0 5 4 7" stroke-width="1.15"/>
<path d="M447.0 251.5 q-8 0 -9 10 q0 8 8 11 l10 -2 v-16z" fill="#fff" stroke-width="1.26"/>
<path d="M447.0 255.5 q-5 2 -5 8 q0 5 4 7" stroke-width="1.15"/>
<path d="M447.0 273.5 q-8 0 -9 10 q0 8 8 11 l10 -2 v-16z" fill="#fff" stroke-width="1.26"/>
<path d="M447.0 277.5 q-5 2 -5 8 q0 5 4 7" stroke-width="1.15"/>
<path d="M447.0 297.9 q-8 0 -9 10 q0 8 8 11 l10 -2 v-16z" fill="#fff" stroke-width="1.26"/>
<path d="M447.0 301.9 q-5 2 -5 8 q0 5 4 7" stroke-width="1.15"/>
<path d="M447.0 321.0 q-8 0 -9 10 q0 8 8 11 l10 -2 v-16z" fill="#fff" stroke-width="1.26"/>
<path d="M447.0 325.0 q-5 2 -5 8 q0 5 4 7" stroke-width="1.15"/>
<path d="M447.0 345.0 q-8 0 -9 10 q0 8 8 11 l10 -2 v-16z" fill="#fff" stroke-width="1.26"/>
<path d="M447.0 349.0 q-5 2 -5 8 q0 5 4 7" stroke-width="1.15"/>
<path d="M447.0 369.0 q-8 0 -9 10 q0 8 8 11 l10 -2 v-16z" fill="#fff" stroke-width="1.26"/>
<path d="M447.0 373.0 q-5 2 -5 8 q0 5 4 7" stroke-width="1.15"/>
<path d="M449 185.5 l6 -4 l7 3 l1 8 l-5 5 l-8 -3z" fill="#fff" stroke-width="1.95"/>
<path d="M451 187.5 l5 4 M455 184.5 l3 4" stroke-width="1.49"/>
<circle cx="450.5" cy="192.5" r="2.2" fill="#000"/>
<path d="M449 209.0 l6 -4 l7 3 l1 8 l-5 5 l-8 -3z" fill="#fff" stroke-width="1.95"/>
<path d="M451 211.0 l5 4 M455 208.0 l3 4" stroke-width="1.49"/>
<circle cx="450.5" cy="216.0" r="2.2" fill="#000"/>
<path d="M449 233.0 l6 -4 l7 3 l1 8 l-5 5 l-8 -3z" fill="#fff" stroke-width="1.95"/>
<path d="M451 235.0 l5 4 M455 232.0 l3 4" stroke-width="1.49"/>
<circle cx="450.5" cy="240.0" r="2.2" fill="#000"/>
<path d="M449 258.5 l6 -4 l7 3 l1 8 l-5 5 l-8 -3z" fill="#fff" stroke-width="1.95"/>
<path d="M451 260.5 l5 4 M455 257.5 l3 4" stroke-width="1.49"/>
<circle cx="450.5" cy="265.5" r="2.2" fill="#000"/>
<path d="M449 280.5 l6 -4 l7 3 l1 8 l-5 5 l-8 -3z" fill="#fff" stroke-width="1.95"/>
<path d="M451 282.5 l5 4 M455 279.5 l3 4" stroke-width="1.49"/>
<circle cx="450.5" cy="287.5" r="2.2" fill="#000"/>
<path d="M449 304.9 l6 -4 l7 3 l1 8 l-5 5 l-8 -3z" fill="#fff" stroke-width="1.95"/>
<path d="M451 306.9 l5 4 M455 303.9 l3 4" stroke-width="1.49"/>
<circle cx="450.5" cy="311.9" r="2.2" fill="#000"/>
<path d="M449 328.0 l6 -4 l7 3 l1 8 l-5 5 l-8 -3z" fill="#fff" stroke-width="1.95"/>
<path d="M451 330.0 l5 4 M455 327.0 l3 4" stroke-width="1.49"/>
<circle cx="450.5" cy="335.0" r="2.2" fill="#000"/>
<path d="M449 352.0 l6 -4 l7 3 l1 8 l-5 5 l-8 -3z" fill="#fff" stroke-width="1.95"/>
<path d="M451 354.0 l5 4 M455 351.0 l3 4" stroke-width="1.49"/>
<circle cx="450.5" cy="359.0" r="2.2" fill="#000"/>
<path d="M449 376.0 l6 -4 l7 3 l1 8 l-5 5 l-8 -3z" fill="#fff" stroke-width="1.95"/>
<path d="M451 378.0 l5 4 M455 375.0 l3 4" stroke-width="1.49"/>
<circle cx="450.5" cy="383.0" r="2.2" fill="#000"/>
<ellipse cx="468.6" cy="179.0" rx="5.2" ry="4.6" fill="#fff" stroke-width="1.49"/><path d="M466.6 179.0 l2 2 l3 -3" stroke-width="1.15"/>
<ellipse cx="468.6" cy="191.6" rx="5.2" ry="4.6" fill="#fff" stroke-width="1.49"/><path d="M466.6 191.6 l2 2 l3 -3" stroke-width="1.15"/>
<ellipse cx="466.0" cy="213.0" rx="5.2" ry="4.6" fill="#fff" stroke-width="1.49"/><path d="M464.0 213.0 l2 2 l3 -3" stroke-width="1.15"/>
<ellipse cx="463.0" cy="232.9" rx="5.2" ry="4.6" fill="#fff" stroke-width="1.49"/><path d="M461.0 232.9 l2 2 l3 -3" stroke-width="1.15"/>
<ellipse cx="468.0" cy="268.0" rx="5.2" ry="4.6" fill="#fff" stroke-width="1.49"/><path d="M466.0 268.0 l2 2 l3 -3" stroke-width="1.15"/>
<ellipse cx="473.0" cy="290.0" rx="5.2" ry="4.6" fill="#fff" stroke-width="1.49"/><path d="M471.0 290.0 l2 2 l3 -3" stroke-width="1.15"/>
<ellipse cx="470.0" cy="338.0" rx="5.2" ry="4.6" fill="#fff" stroke-width="1.49"/><path d="M468.0 338.0 l2 2 l3 -3" stroke-width="1.15"/>
<ellipse cx="472.0" cy="360.0" rx="5.2" ry="4.6" fill="#fff" stroke-width="1.49"/><path d="M470.0 360.0 l2 2 l3 -3" stroke-width="1.15"/>
<path d="M463 200 q8 -6 14 2 l8 6 q4 6 -2 12 l-6 2 l-10 -6 q-6 -8 -4 -16z" fill="#fff" stroke-width="1.49"/><ellipse cx="472" cy="208" rx="5" ry="6.5" stroke-width="1.38"/><ellipse cx="472" cy="208" rx="2.5" ry="3.5" stroke-width="1.26"/>
<path d="M480 212 l6 -2 l4 5 l-1 6 l-5 2 l-5 -3z" fill="#fff" stroke-width="1.61"/>
<path d="M467 296 L486 312 M470 290 L490 305" stroke-width="1.15"/>
<path d="M484 307 l8 -1 l8 5 v8 l-6 3 l-9 -4z" fill="#fff" stroke-width="1.49"/><path d="M487 309 q-2 6 1 11 M491 309 q-2 6 1 11" stroke-width="1.61"/><path d="M494 310 v10" stroke-width="1.15"/>
<path d="M470 325 l4 -3 l12 6 l2 8 l-4 4 l-12 -6z" fill="#fff" stroke-width="1.38"/><path d="M474 328 q-2 6 1 10 M478 330 q-2 6 1 10" stroke-width="1.61"/>
<path d="M455 368 q-6 4 -6 12 q0 6 6 10 M436 370 q-4 6 -2 12 M438 383 l8 10" stroke-width="1.26"/>
<path d="M462 380 l5 -4 l10 5 l2 8 l-5 4 l-10 -5z" fill="#fff" stroke-width="1.38"/><path d="M466 381 q-2 5 1 9 M470 383 q-2 5 1 9" stroke-width="1.49"/>
<path d="M301.3 346 L292 351.4 V376.7 L300 381 M292 351.4 L340 378 M300 356 L338 377" stroke-width="1.26"/>
<path d="M340 378 L370 393 L384 400 M352 389 L372 400" stroke-width="1.15" stroke-dasharray="7 2.5"/>
<path d="M383 396 L396 390 V420 L385 424 V396 M384 400 V424" stroke-width="1.26"/>
<path d="M376 402 l4 -2 M395 403 q2 -10 -6 -10" stroke-width="1.15"/>
<path d="M298 372 l6 -5 l8 4 l1 10 l-6 4 l-8 -4z" fill="#fff" stroke-width="1.49"/><ellipse cx="304.5" cy="376" rx="5" ry="6" stroke-width="1.72"/><path d="M301 372 l6 8 M303 381 l5 -4" stroke-width="1.61"/>
<ellipse cx="319" cy="393" rx="7" ry="7.8" fill="#fff" stroke-width="1.72"/><path d="M314 386 q-3 6 0 14" stroke-width="1.72"/>
<ellipse cx="339" cy="387" rx="3.5" ry="4.5" stroke-width="1.49"/><ellipse cx="339" cy="387" rx="1.8" ry="2.5" stroke-width="1.15"/>
<path d="M333 396 h4 v6 M341 400 v6 h-3 h6" stroke-width="1.15"/>
<path d="M372 395 l-4 6 v12 l6 4 l6 -4 v-12 z" fill="#fff" stroke-width="1.26"/>
<ellipse cx="375" cy="408" rx="5" ry="6.5" stroke-width="1.84"/><ellipse cx="375" cy="408" rx="2.5" ry="3.5" stroke-width="1.49"/>
<path d="M398 398 q2 -8 10 -6 l22 12 q3 6 -1 12 l-8 4 l-20 -10 q-6 -4 -3 -12z" fill="#fff" stroke-width="1.38"/>
<ellipse cx="404" cy="402" rx="6" ry="7" fill="#fff" stroke-width="1.26"/>
<path d="M414 404 q-2 6 2 10 M418 406 q-2 6 2 10 M422 408 q-2 6 2 10 M426 410 q-2 6 2 10" stroke-width="1.72"/>
<path d="M424 415 l6 -3 l4 6 l-6 3z" fill="#000"/>
<ellipse cx="428" cy="389" rx="6" ry="8" fill="#fff" stroke-width="1.61"/><ellipse cx="428" cy="389" rx="3" ry="5" stroke-width="1.38"/>
<path d="M400 428 l16 -8" stroke-width="1.38" stroke-dasharray="1.5 1"/>
<path d="M432 396 l10 -4 h4 l4 6 M436 412 l12 -6" stroke-width="1.15"/>
<path d="M440 380 l6 -4 q6 -1 6 6 l-4 6 M446 390 q-2 4 2 6 M455 385 h8 M455 391 l5 -2" stroke-width="1.15"/>
<path d="M451 385 l3 -1 M447 398 q-2 0 -4 -2" stroke-width="1.15"/>
</g>
<g id="bracket" stroke-width="1">
<path d="M226.7 397 L273 373 L301 389 L256 414 Z" stroke-dasharray="9 2.5"/>
<path d="M226.7 397 V404 L256 420 L301 396 V389" stroke-dasharray="9 2.5"/>
<path d="M235 400 L262 386 M238 404 L268 389" stroke-dasharray="6 2.5"/>
<path d="M257 414 V420" stroke-width="1.1"/>
<path d="M241 392 l2.5 -5 l6 -2 l6 2 l1.5 5 v3 l-7 3 l-8 -3 z M244 391 H254" fill="#fff" stroke-width="1.3"/>
<path d="M252 407 Q249 398 253 389 L258 377 Q262 370 270 370.5 L284 377 M257 409 Q254 400 258 391 L262 381 Q265 376 270 376 L282 382" stroke-width="1.1" fill="none"/>
<path d="M260 386 l8 -4 l8 4 v10 l-8 4 l-8 -4z M268 390 v10" stroke-width="1" fill="#fff"/><path d="M263 392 h3 M271 390 v5 M273 390 h3" stroke-width="1"/>
<path d="M273 374.6 L390.6 441.3 Q400 448 404 465 L414.6 494.6 Q420 506 428 510.6 L446.5 518.6" stroke-dasharray="14 2.5"/>
<path d="M268 380 L387 448 Q395 455 398 470 L408 498 Q414 512 425 516 L445 525" stroke-dasharray="14 2.5"/>
<path d="M446.5 518.6 L518.5 478.6 V486 L448 526 Z" stroke-dasharray="10 2.5"/>
<path d="M454.5 410.6 L406.6 438.6 M478.5 465.3 L430.6 492" stroke-dasharray="10 3"/>
<path d="M420 384 Q440 392 454.5 393.3 Q462 398 468 406.6 Q478 425 484 446.6 Q490 460 497 465 L500 468" stroke-dasharray="8 2"/>
<path d="M393 464 L402 460 L405 474 L396 478 Z" stroke-width="1.1"/><circle cx="398.5" cy="469" r="2"/>
<path d="M499 473 l2.5 -5 l6 -2 l6 2 l1.5 5 v3 l-7 3 l-8 -3 z M502 472 H513" fill="#fff" stroke-width="1.3"/>
<path d="M440 505 l2.5 -5 l6 -2 l6 2 l1.5 5 v3 l-7 3 l-8 -3 z M443 504 H454" fill="#fff" stroke-width="1.3"/>
<path d="M448 512 v10 h-3 v3 h6 M510 480 v6" stroke-width="1"/>
</g>
<g id="blocks" stroke-width="1.1">
<g id="blk1">
<path d="M279.1 494.2 L306.9 478.3 L320.6 486.6 L292.2 500 Z" fill="#fff" stroke-dasharray="9 2.5"/>
<path d="M279.1 494.2 V518.4 L292.2 524.8 V500 M320.6 486.6 V511.4 L300.5 521" stroke-dasharray="10 2.5"/>
<ellipse cx="300.2" cy="505.6" rx="5" ry="6.6" transform="rotate(25 300.2 505.6)" stroke-width="1.3"/><ellipse cx="300.4" cy="505.6" rx="2.8" ry="4" transform="rotate(25 300.4 505.6)" stroke-width="1.1"/><ellipse cx="300.6" cy="505.6" rx="1.2" ry="2" stroke-width="1"/>
<ellipse cx="314.5" cy="497.7" rx="5" ry="6.6" transform="rotate(15 314.5 497.7)" stroke-width="1.3"/><ellipse cx="314.5" cy="497.7" rx="2.8" ry="4" stroke-width="1.2"/>
<ellipse cx="313.5" cy="509.5" rx="2" ry="2.6" transform="rotate(20 313.5 509.5)" stroke-width="1.2"/>
<path d="M297.5 512 h7 v4 h-7z M298 516 l-1 4 l4 2 l4 -2 l-1 -4" fill="#fff" stroke-width="1.2"/>
<path d="M293 503 h4 M295 503 v5 M293 522 l3 2 l3 -2 M296 509 v12" stroke-width="1"/>
<path d="M297.5 533 q0 -3 4 -3 q4 0 4 3 v3 l1 1 v6 l-1 1 v2 q-4 3 -8 0 v-2 l-1 -1 v-6 l1 -1z" fill="#fff" stroke-width="1.6"/><path d="M298 536 h7 M298 540 q3.5 2 7 0 M298 544 h7" stroke-width="1.2"/><rect x="299" y="530.5" width="5" height="2" fill="#000"/>
</g>
<use href="#blk1" transform="translate(-55.1 447)"/>
</g>
<!-- HOSES -->
<g id="hoses" stroke-linecap="butt">
<!-- left long hose -->
<defs><path id="h1" d="M219 264 L212 275.7 L207 286 Q200 294 191.6 298.7 L173.8 309 Q167 314 167.4 322 L167.4 339.5 L153.4 367.6 L135.5 408.4 Q127 430 126.6 444 Q125 465 127.9 482 Q131 500 138 513 Q145 525 156 533.4 Q170 543 186.5 548.7 Q200 552 217 553.8 L257 560 L278.4 562 L299.7 569.7 L317.7 581.3 Q330 592 335.8 600.6 Q338 607 339.6 614.8 L350 629 Q357 640 359 647 Q360 654 357.7 658.7 Q352 665 346 669 Q339 673 332 674.8 Q326 674 320.3 671.6 Q313 665 310 661 Q305 650 302.9 640.6 Q301 630 301 618"/></defs><use href="#h1" stroke="#000" stroke-width="7.5"/><use href="#h1" stroke="#fff" stroke-width="3.5"/>
<!-- top right hose -->
<defs><path id="h2" d="M598 32 L617 35 Q640 38 660 43 Q676 48 681 60 Q685 75 678 88 Q668 103 650 110 L630 119 Q608 131 600 148 Q595 165 596 185 L601 230 Q603 255 598 278 Q592 296 578 308"/></defs><use href="#h2" stroke="#000" stroke-width="7"/><use href="#h2" stroke="#fff" stroke-width="4.2"/>
<!-- short hose to tank -->
<defs><path id="h3" d="M580 310 Q590 306 599 306.5 Q607 307 612 311 Q618 317 619 326 L619.7 362"/></defs><use href="#h3" stroke="#000" stroke-width="8"/><use href="#h3" stroke="#fff" stroke-width="5"/>
<!-- long right hose -->
<defs><path id="h4" d="M451.7 817.3 L441.7 837.4 Q436 850 433 866 L425.9 900.4 L418.7 929 Q412 942 408.7 952 Q405 965 405.8 980.7 Q407 1000 411.5 1015 Q418 1035 425.9 1049.6 L441.7 1081 Q445 1092 443 1101 Q440 1112 433 1118.4 Q427 1124 421.6 1124 Q414 1122 411.5 1112.7 Q408 1100 408.7 1084 L407 1049"/></defs><use href="#h4" stroke="#000" stroke-width="6.2"/><use href="#h4" stroke="#fff" stroke-width="3.8"/>
</g>
<!-- FITTINGS black -->
<g id="fit" fill="#000" stroke="none">
<path d="M211 265 L221 259 L224 267 L214 273 Z"/>
<path d="M296 597 H307 V619 H296 Z"/>
<path d="M452.3 806 L461 800 L463 813.5 L456 816 Z"/>
<path d="M403 1030 H413 V1043 H403 Z"/>
<path d="M538 338 L566 315 L572 322 L546 345 Z"/>
<path d="M612 360 H625 V372 H612 Z"/>
<path d="M575 28 H582 V39 H575 Z"/>
</g>
<g id="fitw" fill="#fff" stroke="#000" stroke-width="1">
<path d="M216 258 l4 -3.5 l6 1 l2 5 l-4 4 l-6 -1z" stroke-width="1.8"/><path d="M218 260 l6 -1 M218.5 263 l6 -1" stroke-width="1.2"/><path d="M209 278 l2 -2 M212 281 l2 -2" stroke-width="1.2"/>

<path d="M456 803 l3 -5 l5 1 l3 5 l-3 5 l-6 0 z" stroke-width="1.8"/><path d="M449 815 l5 -4 l6 3 l-4 6 z" stroke-width="1"/>

<rect x="298" y="604" width="7" height="3"/><rect x="298" y="610" width="7" height="3"/>
<rect x="404" y="1043" width="8" height="7"/>
<rect x="615" y="364" width="7" height="4"/>
<path d="M582 29 H598 V38 H582 Z M586 29 V38"/>
</g>
<!-- THIN LINES -->
<g id="thin" stroke-width="1">
<path d="M297 127 L222 254"/>
<path d="M418 357 L645 481 L463 799"/>
<path d="M435.7 85 V139"/>
<path d="M446 33.5 H575"/>
<path d="M626 134 L650 146"/>
<path d="M301.6 546 V597"/>
<path d="M474.6 780 L463 799"/>
<path d="M245 981 V1118 L407 1026.6"/>
</g>
<!-- LEADERS -->
<g id="lead" stroke-width="1.6">
<path d="M219.7 270.6 L250.3 289.7"/>
<path d="M201.8 297.4 L226 329.3"/>
<path d="M241 618 L296 611"/>
<path d="M243 670.3 L303 649"/>
<path d="M444.5 840 L510.5 850.3"/>
<path d="M622 130.7 L631.6 188"/>
<path d="M659 141.4 L686.7 108"/>
<path d="M617.3 314.8 L652 281.3"/>
<path d="M573 303 L562.3 265.8"/>
<path d="M638 28 L644 0"/>
<path d="M673 46 L686 18"/>
<path d="M691 165 L719 126"/>
</g>
<!-- ARROWS -->
<g id="arrows" stroke-width="1.5">
<path d="M507 280 V340 M527 272 V326 M223 812 V848 M232 832 V870"/>
<path d="M507 257 L503 283 H511 Z M527 248 L523 276 H531 Z M223 795 L219 814 H227 Z M232 814 L228 837 H236 Z" fill="#000"/>
</g>
<g stroke="none" fill="#000">
</g>
<g id="extras" stroke-width="1.1">
<path d="M432 31.5 H439 M432 31.5 V44 M439 31.5 V40 M432 37 H440.4" stroke-width="1.2"/>
<rect x="440.4" y="31.2" width="5.4" height="6.3" fill="#fff" stroke-width="1.2"/><path d="M442.5 31.5 V37.5" stroke-width="1"/>
<path d="M430.5 42 H441 V47 L438 50.6 H433.5 L430.5 47 Z" fill="#000"/><path d="M433.5 48.5 H438" stroke="#fff" stroke-width="1"/>
<path d="M434 40 h3 v3 h-3z" fill="#fff" stroke-width="1"/>
<path d="M430.5 56 V75 H441 M430.5 56 H441 V61.5 H447.7 V71.7 H441" fill="#fff" stroke-width="1.2"/>
<path d="M432 58 h4 l3 -1 l2 3 l-2 3 h-7z" stroke-width="1.2"/>
<path d="M430.5 75 H441.7 V83 L438 87 H433 L430.5 83 Z" fill="#000"/><path d="M433 78 H439 M433 82 H439" stroke="#fff" stroke-width="1"/>
<rect x="574.5" y="28.5" width="20" height="10.5" fill="#fff" stroke-width="1.3"/>
<rect x="581.5" y="28.5" width="4" height="10.5" fill="#000"/><path d="M577 29 V38.5 M590 29 V38.5" stroke-width="1"/>
<path d="M598 36 l3 -2 M603 36.5 l3 -2 M608 37 l3 -2" stroke-width="1"/>
<ellipse cx="635" cy="44" rx="6" ry="13.5" transform="rotate(18 635 44)" fill="none" stroke-width="2.6"/>
<path d="M631 36 l8 -5 M629 53 l9 4" stroke-width="1.2"/>
<path d="M638.4 29.6 L640.5 20" stroke-width="1.6"/>
<path d="M618 122 l8 -6 l6 8 l-2 10 l-8 4 l-5 -6 z" fill="#fff" stroke-width="1.6"/>
<path d="M619 130 l6 -3 l4 6 l-4 5 l-5 -2 z" fill="#000"/>
<path d="M625 119 l7 -3 l3 6 l-7 4z" fill="#fff" stroke-width="1.1"/>
<ellipse cx="653.8" cy="148.6" rx="5.5" ry="9" transform="rotate(30 653.8 148.6)" stroke-width="1.6"/>
<ellipse cx="653.8" cy="148.6" rx="2.5" ry="4.5" transform="rotate(30 653.8 148.6)" stroke-width="1.2"/>
<path d="M666 156 l3 -3 l20 11 l-3 12 l-20 -11 q-3 -3 0 -9z" fill="#fff" stroke-width="1.3"/>
<path d="M672 157 q-3 5 0 10 M677 160 q-3 5 0 10 M682 163 q-3 5 0 10" stroke-width="1.2"/>
<path d="M688 166 l6 -3 l8 4 l3 7 l-1 7 l-6 3 l-8 -4 l-3 -7z" fill="#fff" stroke-width="1.4"/>
<ellipse cx="699" cy="176" rx="5" ry="7.5" stroke-width="1.2" transform="rotate(-10 699 176)"/>
<path d="M690 168 l3 7 l-1 6" stroke-width="1"/>
<path d="M568 139.3 Q571 130 577.6 124.7 Q583 117 589.6 112.7 L598 105.8 L615.4 90.3 Q619 88 621 92 L621.4 97.2 L608.5 107.5 L600 114.4 L589.6 123 Q583 127 581 131 Q578 138 575.8 144.5 Q570 146 568 139.3" stroke-width="1" stroke-dasharray="6 2.5"/>
<path d="M595 101 Q600 98 604 103 Q608 110 607 122 M600 100 Q606 98 608 104" stroke-width="1" stroke-dasharray="5 2"/>
<path d="M598 112 l4 3 M600 116 h3 v7 h-3z" stroke-width="1"/>
<path d="M604 123 l16 9" stroke-width="1"/>
<path d="M504 340 h7.5 v4 l2 1 v8 h-11.5 v-8 l2 -1z" fill="#000"/>
<path d="M505 346 h6 M505 350 h6" stroke="#fff" stroke-width="1"/>
<path d="M502.5 353 V359 l2 1.5 h8 l1.5 -1.5 V353 M504 353 h13 v10 h-4" fill="#fff" stroke-width="1.2"/>
<path d="M511 351 l4 3 M512 356 l4 3" stroke-width="1.2"/>
<path d="M524 325 h8.5 v4 l1 1 v8 l-3 3 h-6 l-3 -3 v-8 l1 -1z" fill="#fff" stroke-width="1.3"/>
<path d="M524 325 h8.5 v5 h-8.5z" fill="#000"/><path d="M525 334 h6 M525 337.5 h6" stroke-width="1"/>
<path d="M521 338 V344 M523 347 V357 M530 345 V358 l-3 2 M536 342 V355" stroke-width="1.1" stroke-dasharray="4 1.5"/>
<path d="M517.5 349 L534 338" stroke-width="1"/>
<path d="M536 337 L560 315 L569 324 L546 346 Z" fill="#000"/>
<path d="M541 337 l3 3 M549 329 l3 3 M553 322 l4 3" stroke="#fff" stroke-width="1"/>
<path d="M558 315 L572 301 L581 311 L566 325 Z" fill="#fff" stroke-width="1.6"/>
<path d="M565 312 l4 4 M570 307 l4 4" stroke-width="1.2"/>
<ellipse cx="576" cy="310" rx="6" ry="8" transform="rotate(40 576 310)" stroke-width="1.8"/>
<path d="M615 381 h8 v6 l1.5 1.5 v5 h-11 v-5 l1.5 -1.5z" fill="#fff" stroke-width="1.3"/>
<path d="M616 383 l3 -1 l3 2 l-2 3 h-3z" fill="#000"/>
<path d="M614 389 V393 M622 389 L640 391 L648 398 V408 M622 395 V406 L630 409 M633 402 L637 411" stroke-width="1.1" stroke-dasharray="4 2"/>
<path d="M639 403 l5 -3 l8 5 l1 8 l-5 3 l-8 -4z" fill="#fff" stroke-width="1.4"/>
<path d="M642 404 q-2 5 1 10 M645 404 q-2 5 1 10 M648 405 q-2 5 1 10" stroke-width="1.2"/>
<path d="M641 398 l4 -2 l4 3 l-1 4" stroke-width="1.2"/>
<g stroke-width="1.1">
<path d="M187 759 L227 738 M207 741 L225 732 M229 731 L242 724 l4 2 l4 -3 L264 716 M270 717 q6 6 3 14 l-20 10" stroke-width="1"/>
<path d="M265 713 l5 -2 l1 4 l-3 3z" stroke-width="1"/>
<path d="M200 785 L222 773 M196 775 L216 765 M258 745 L272 738 q3 5 0 11 L258 756" stroke-width="1"/>
<path d="M218 748 L245 737 L254 741 V765 L240 777 L222 781 Z" fill="#fff" stroke-width="1"/>
<path d="M232 740 L240 735 L254 741 M240 735 V745" stroke-width="1"/>
<ellipse cx="221" cy="760" rx="4.5" ry="5" fill="#fff" stroke-width="1.2"/><ellipse cx="221" cy="760" rx="2" ry="2.5"/>
<ellipse cx="222" cy="775" rx="4.5" ry="5" fill="#fff" stroke-width="1.2"/><ellipse cx="222" cy="775" rx="2" ry="2.5"/>
<ellipse cx="247" cy="744" rx="4.5" ry="5" fill="#fff" stroke-width="1.2"/><ellipse cx="247" cy="744" rx="2" ry="2.5"/>
<ellipse cx="247" cy="760" rx="4.5" ry="5" fill="#fff" stroke-width="1.2"/><ellipse cx="247" cy="760" rx="2" ry="2.5"/>
<ellipse cx="235" cy="752" rx="4.5" ry="5" fill="#fff" stroke-width="1.2"/><ellipse cx="235" cy="752" rx="2" ry="2.5"/>
<path d="M213 758 q3 2 1 7 M213 772 q3 2 1 7" stroke-width="1.4"/>
<ellipse cx="176" cy="770" rx="14" ry="8" transform="rotate(-30 176 770)" fill="#fff" stroke-width="1.1"/>
<ellipse cx="181" cy="782" rx="13" ry="8" transform="rotate(-30 181 782)" fill="#fff" stroke-width="1.1"/>
<path d="M168 766 q4 -6 10 -2 M168 776 q4 -6 10 -2 M171 786 q4 -6 10 -2" stroke-width="1.6"/>
<path d="M164 772 q-4 6 0 12 q4 6 12 8" stroke-width="1.1"/>
<path d="M172 770 l4 2 M178 780 l4 -2 M176 788 l4 2" stroke-width="1.6"/>
<path d="M214 747 l4 -3 l3 3 M206 749 l3 -3" stroke-width="1.2"/>
<path d="M227 766 H236 V772" stroke-width="1"/>
</g>
<g stroke-width="1.1">
<path d="M304 758 Q308 754 311 758 L309 774 L300 822 L290 858 L282 885 L276 903 M304 758 L302 774 L292 821 L282 857 L274 884 L268 901" stroke-dasharray="6 2"/>
<path d="M302 762 l2 8 l3 -6" stroke-width="1"/>
<path d="M278 895 L292 913 L311 935 L323 956 L326 980 L321 994 Q318 1004 322 1012 Q328 1018 340 1014 L360 1000 M285 891 L298 910 L318 932 L330 954 L333 980 L328 995 Q325 1003 328 1008 Q332 1012 340 1008 L358 994" stroke-dasharray="8 2"/>
<path d="M330 1010 l2 3 M336 1008 l2 3 M341 1006 l1 3" stroke-width="1"/>
<path d="M358 991 l8 -4 l5 8 l-8 6z" fill="#fff" stroke-width="1.3"/><path d="M362 990 l3 7 M366 988 l3 7" stroke-width="1"/>
<path d="M281 884 L302 862 M284 890 L305 870" stroke-width="1.1"/>
<path d="M287 893 L306 876 M283 900 L306 883" stroke-width="1.1"/>
<path d="M298 860 l12 -10 l9 5 l-2 7 l-12 9z" fill="#000"/><path d="M302 864 l10 -8 M305 867 l10 -8" stroke="#fff" stroke-width="1"/>
<path d="M300 875 l13 -11 l7 5 l-2 7 l-12 9z" fill="#000"/><path d="M305 878 l10 -8" stroke="#fff" stroke-width="1"/>
<path d="M318 850 L331 846 V862 L320 866" stroke-width="1"/>
<path d="M318 852 L338 836 M318 870 L338 857" stroke-width="1"/>
<path d="M282 898 Q296 893 310 893 L322 896 M284 905 Q296 900 310 900 L322 903" stroke-width="1.3"/>
<path d="M321 894 l9 2 l2 10 l-9 2z" fill="#000"/>
<path d="M270 896 q-10 6 -6 16 q6 8 14 4 l8 -6" stroke-width="1.8"/>
<path d="M266 906 q10 4 22 -2" stroke-width="1.1"/>
<path d="M288 918 l8 -2 l3 7 l-7 3z" fill="#000"/>
<path d="M337 833 l6 -3 l4 5 l-2 8 l-5 2 l-3 -4z" fill="#fff" stroke-width="1.6"/><path d="M338 836 l5 5 M339 833 l5 5" stroke-width="1.4"/>
<path d="M344 836 l5 -2 l6 5 l-1 7 l-5 2 l-6 -5z" fill="#fff" stroke-width="1.5"/><ellipse cx="350" cy="842" rx="2.5" ry="3.5" transform="rotate(-40 350 842)" stroke-width="1.3"/>
<path d="M341 913 l6 -3 l4 5 l-2 8 l-5 2 l-3 -4z" fill="#fff" stroke-width="1.6"/><path d="M342 916 l5 5 M343 913 l5 5" stroke-width="1.4"/>
<path d="M349 914 l5 -2 l6 5 l-1 7 l-5 2 l-6 -5z" fill="#fff" stroke-width="1.5"/><ellipse cx="355" cy="920" rx="2.5" ry="3.5" transform="rotate(-40 355 920)" stroke-width="1.3"/>
<path d="M331 905 L342 913" stroke-width="1"/>
<ellipse cx="323" cy="976" rx="10" ry="6" stroke-width="2.4"/>
<ellipse cx="314" cy="997" rx="9" ry="7" stroke-width="2.4"/>
<path d="M320 973 L336 972 L341 990 L330 1001 L322 1001" stroke-width="1.2"/>
<path d="M267 948 L333 912 M280 944 L300 932" stroke-width="1" stroke-dasharray="10 3"/>
</g>
<g stroke-width="1.6">
<path d="M279 829 L307.6 857.6"/>
<path d="M214.3 882.6 L274 888.6"/>
<path d="M209.6 912.5 L269.3 901.8"/>
<path d="M345.8 873 L322 895.8"/>
<path d="M281 978.2 L284.8 922"/>
<path d="M341 986.6 L378 981.8"/>
</g>
<path d="M233.5 774 L338.6 833.6" stroke-width="1"/>
</g>
<g id="textstroke">
<path d="M244.00 47.32 V31.00 L248.48 42.22 L252.96 31.00 V47.32 M257.09 37.12 L258.99 35.08 H263.47 L265.71 37.12 V47.32 M265.71 39.67 H258.99 L256.75 41.71 V45.28 L258.99 47.32 H263.47 L265.71 45.28 M273.98 31.31 V32.84 M273.98 35.08 V47.32 M282.25 35.08 V47.32 M282.25 37.12 L284.49 35.08 H288.97 L291.21 37.12 V47.32 M307.75 31.00 L312.23 47.32 L316.71 31.00 M320.84 37.12 L322.74 35.08 H327.22 L329.46 37.12 V47.32 M329.46 39.67 H322.74 L320.50 41.71 V45.28 L322.74 47.32 H327.22 L329.46 45.28 M337.73 31.00 V47.32 M346.00 35.08 L350.48 47.32 L354.96 35.08 M358.75 41.20 H367.71 V37.12 L365.47 35.08 H360.99 L358.75 37.12 V45.28 L360.99 47.32 H366.59 L367.71 46.30" stroke-width="1.9" stroke-linecap="butt" stroke-linejoin="bevel"/>
<path d="M935.20 775.20 V790.24 M942.80 775.20 V790.24 M935.20 782.25 H942.80 M948.06 778.96 L951.86 785.54 M955.66 778.96 L949.49 790.24 H948.06 M968.52 775.20 V790.24 M968.52 779.43 H963.30 L960.92 781.78 V787.89 L963.30 790.24 H968.52 M973.78 778.96 V790.24 M973.78 781.78 L976.16 778.96 H979.48 L981.38 780.37 M986.93 780.84 L988.54 778.96 H992.34 L994.24 780.84 V790.24 M994.24 783.19 H988.54 L986.64 785.07 V788.36 L988.54 790.24 H992.34 L994.24 788.36 M999.50 778.96 V788.36 L1001.40 790.24 H1005.20 L1007.10 788.36 M1007.10 778.96 V790.24 M1016.16 775.20 V790.24 M1029.02 775.48 V776.89 M1029.02 778.96 V790.24 M1045.68 780.37 L1044.25 778.96 H1039.98 L1038.08 780.84 V788.36 L1039.98 790.24 H1044.25 L1045.68 788.83 M1063.80 775.20 H1071.40 M1067.60 775.20 V790.24 M1076.95 780.84 L1078.56 778.96 H1082.36 L1084.26 780.84 V790.24 M1084.26 783.19 H1078.56 L1076.66 785.07 V788.36 L1078.56 790.24 H1082.36 L1084.26 788.36 M1089.52 778.96 V790.24 M1089.52 780.84 L1091.42 778.96 H1095.22 L1097.12 780.84 V790.24 M1102.38 775.20 V790.24 M1109.51 778.96 L1102.38 786.48 M1104.76 784.13 L1109.98 790.24" stroke-width="1.8" stroke-linecap="butt" stroke-linejoin="bevel"/>
<path d="M1024.58 1212.60 H1027.88 V1221.51 L1026.23 1223.16 H1024.25 L1022.60 1221.51 M1032.20 1223.16 L1034.84 1212.60 L1037.48 1223.16 M1033.19 1219.53 H1036.49 M1043.12 1212.60 H1045.76 L1047.08 1214.25 V1221.51 L1045.76 1223.16 H1043.12 L1041.80 1221.51 V1214.25 Z M1052.72 1212.60 H1055.36 L1056.68 1214.25 V1221.51 L1055.36 1223.16 H1052.72 L1051.40 1221.51 V1214.25 Z M1062.32 1212.60 H1064.96 L1066.28 1213.92 V1216.23 L1064.96 1217.55 H1062.32 L1061.00 1216.23 V1213.92 Z M1062.32 1217.55 L1061.00 1218.87 V1221.84 L1062.32 1223.16 H1064.96 L1066.28 1221.84 V1218.87 L1064.96 1217.55 M1070.60 1213.59 L1071.59 1212.60 H1074.56 L1075.88 1213.92 V1216.23 L1074.56 1217.55 H1072.58 M1074.56 1217.55 L1075.88 1218.87 V1221.84 L1074.56 1223.16 H1071.59 L1070.60 1222.17 M1081.52 1212.60 H1084.16 L1085.48 1214.25 V1221.51 L1084.16 1223.16 H1081.52 L1080.20 1221.51 V1214.25 Z M1091.12 1212.60 H1093.76 L1095.08 1213.92 V1216.23 L1093.76 1217.55 H1091.12 L1089.80 1216.23 V1213.92 Z M1091.12 1217.55 L1089.80 1218.87 V1221.84 L1091.12 1223.16 H1093.76 L1095.08 1221.84 V1218.87 L1093.76 1217.55" stroke-width="1.5" stroke-linecap="butt" stroke-linejoin="bevel"/>
<path d="M499.50 215.20 V250.40 M499.50 225.10 H509.18 L513.58 230.60 V244.90 L509.18 250.40 H499.50" stroke-width="2.7" stroke-linecap="butt" stroke-linejoin="bevel"/>
<path d="M522.13 221.56 L525.12 217.44 H532.16 L535.68 221.56 V242.16 M535.68 226.71 H525.12 L521.60 230.83 V238.04 L525.12 242.16 H532.16 L535.68 238.04" stroke-width="2.7" stroke-linecap="butt" stroke-linejoin="bevel"/>
<path d="M196.06 803.36 L199.20 799.24 H206.60 L210.30 803.36 V823.96 M210.30 808.51 H199.20 L195.50 812.63 V819.84 L199.20 823.96 H206.60 L210.30 819.84" stroke-width="2.7" stroke-linecap="butt" stroke-linejoin="bevel"/>
<path d="M246.50 829.20 V865.20 M246.50 839.33 H256.95 L261.70 844.95 V859.58 L256.95 865.20 H246.50" stroke-width="2.7" stroke-linecap="butt" stroke-linejoin="bevel"/>
</g>
</svg>
</body></html>
